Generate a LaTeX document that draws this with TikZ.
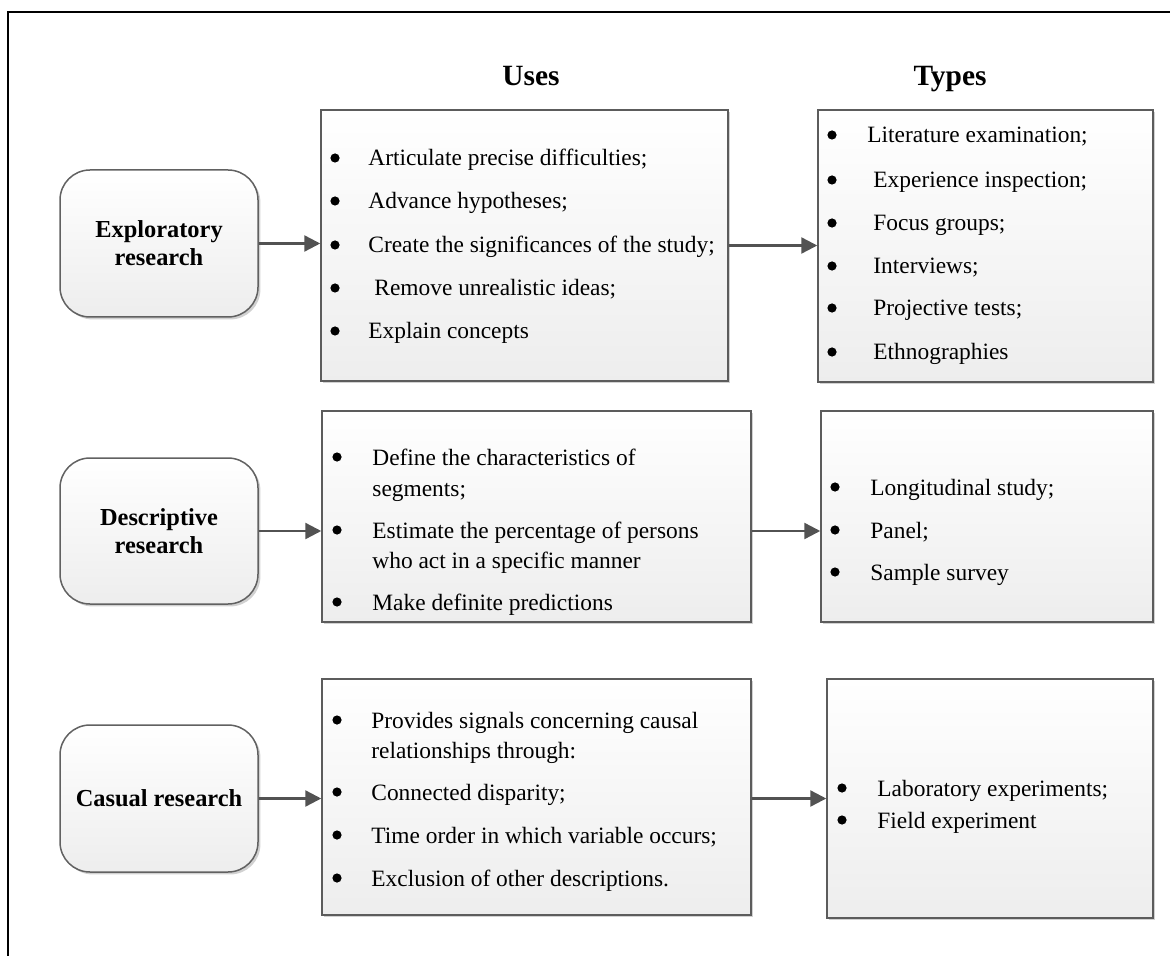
\documentclass[tikz,border=0pt]{standalone}
\usepackage{fontspec}
\setmainfont{Liberation Serif}
\usetikzlibrary{arrows.meta,shadows}
\newcommand\bodyfont{\fontsize{11.7}{14}\selectfont}
\begin{document}
\begin{tikzpicture}[x=0.5pt,y=-0.5pt,
  frame/.style={line width=1pt,black},
  softshadow/.style={drop shadow={shadow xshift=1.2pt,shadow yshift=-1.2pt,fill=black!18,opacity=1}},
  catbox/.style={draw=black!62,line width=0.75pt,rounded corners=15pt,
    top color=white,bottom color=black!7,inner sep=0pt,align=center,
    minimum width=99pt,font=\fontsize{12.2}{14}\selectfont\bfseries,softshadow},
  listbox/.style={draw=black!64,line width=0.75pt,top color=white,
    bottom color=black!7,inner sep=0pt,softshadow},
  heading/.style={anchor=base,inner sep=0pt,font=\fontsize{14.7}{17}\selectfont\bfseries},
  bul/.style={circle,fill=black,inner sep=0pt,minimum size=4.6pt,yshift=4pt},
  itm/.style={anchor=base west,inner sep=0pt,font=\bodyfont},
  link/.style={draw=black!68,line width=1.2pt,-{Triangle[length=8pt,width=8pt]}}
]
\useasboundingbox (0,0) rectangle (1170,956);

% frame along the top and left edge
\coordinate (fbl) at (8,956);
\coordinate (ftl) at (8,12);
\coordinate (ftr) at (1170,12);
\draw[frame] (fbl) -- (ftl) -- (ftr);

% column headings
\node[heading] (huses) at (531,86) {Uses};
\node[heading] (htypes) at (950,86) {Types};

% research categories
\node[catbox,minimum height=73.5pt] (ex) at (159,243.5) {Exploratory\\research};
\node[catbox,minimum height=73pt]   (de) at (159,531)   {Descriptive\\research};
\node[catbox,minimum height=73.5pt] (ca) at (159,798.5) {Casual research};

% list boxes
\node[listbox,minimum width=203.5pt,minimum height=135.5pt] (u1) at (524.5,245.5) {};
\node[listbox,minimum width=167.5pt,minimum height=136pt]   (t1) at (985.5,246) {};
\node[listbox,minimum width=214.5pt,minimum height=105.5pt] (u2) at (536.5,516.5) {};
\node[listbox,minimum width=166pt,minimum height=105.5pt]   (t2) at (987,516.5) {};
\node[listbox,minimum width=214.5pt,minimum height=118pt]   (u3) at (536.5,797) {};
\node[listbox,minimum width=163pt,minimum height=119.5pt]   (t3) at (990,798.5) {};

% exploratory: uses
\node[bul] (u1b1) at (335,166) {};
\node[itm] (u1i1) at (368,166) {Articulate precise difficulties;};
\node[bul] (u1b2) at (335,209) {};
\node[itm] (u1i2) at (368,209) {Advance hypotheses;};
\node[bul] (u1b3) at (335,253) {};
\node[itm] (u1i3) at (368,253) {Create the significances of the study;};
\node[bul] (u1b4) at (335,296) {};
\node[itm] (u1i4) at (374,296) {Remove unrealistic ideas;};
\node[bul] (u1b5) at (335,339) {};
\node[itm] (u1i5) at (368,339) {Explain concepts};

% exploratory: types
\node[bul] (t1b1) at (832,143) {};
\node[itm] (t1i1) at (867,143) {Literature examination;};
\node[bul] (t1b2) at (832,188) {};
\node[itm] (t1i2) at (873,188) {Experience inspection;};
\node[bul] (t1b3) at (832,231) {};
\node[itm] (t1i3) at (873,231) {Focus groups;};
\node[bul] (t1b4) at (832,274) {};
\node[itm] (t1i4) at (873,274) {Interviews;};
\node[bul] (t1b5) at (832,316) {};
\node[itm] (t1i5) at (873,316) {Projective tests;};
\node[bul] (t1b6) at (832,360) {};
\node[itm] (t1i6) at (873,360) {Ethnographies};

% descriptive: uses
\node[bul] (u2b1) at (337,465) {};
\node[itm] (u2i1) at (372,465) {Define the characteristics of};
\node[itm] (u2i1b) at (372,496) {segments;};
\node[bul] (u2b2) at (337,538) {};
\node[itm] (u2i2) at (372,538) {Estimate the percentage of persons};
\node[itm] (u2i2b) at (372,568) {who act in a specific manner};
\node[bul] (u2b3) at (337,610) {};
\node[itm] (u2i3) at (372,610) {Make definite predictions};

% descriptive: types
\node[bul] (t2b1) at (835,495) {};
\node[itm] (t2i1) at (870,495) {Longitudinal study;};
\node[bul] (t2b2) at (835,538) {};
\node[itm] (t2i2) at (870,538) {Panel;};
\node[bul] (t2b3) at (835,580) {};
\node[itm] (t2i3) at (870,580) {Sample survey};

% causal: uses
\node[bul] (u3b1) at (337,728) {};
\node[itm] (u3i1) at (371,728) {Provides signals concerning causal};
\node[itm] (u3i1b) at (371,758) {relationships through:};
\node[bul] (u3b2) at (337,800) {};
\node[itm] (u3i2) at (371,800) {Connected disparity;};
\node[bul] (u3b3) at (337,843) {};
\node[itm] (u3i3) at (371,843) {Time order in which variable occurs;};
\node[bul] (u3b4) at (337,886) {};
\node[itm] (u3i4) at (371,886) {Exclusion of other descriptions.};

% causal: types
\node[bul] (t3b1) at (842,796) {};
\node[itm] (t3i1) at (877,796) {Laboratory experiments;};
\node[bul] (t3b2) at (842,828) {};
\node[itm] (t3i2) at (877,828) {Field experiment};

% connectors
\draw[link] (ex.east) -- (ex.east -| u1.west);
\draw[link] (u1.east) -- (t1.west |- u1.east);
\draw[link] (de.east) -- (de.east -| u2.west);
\draw[link] (u2.east |- de.east) -- (t2.west |- de.east);
\draw[link] (ca.east) -- (ca.east -| u3.west);
\draw[link] (u3.east |- ca.east) -- (t3.west |- ca.east);
\end{tikzpicture}
\end{document}
